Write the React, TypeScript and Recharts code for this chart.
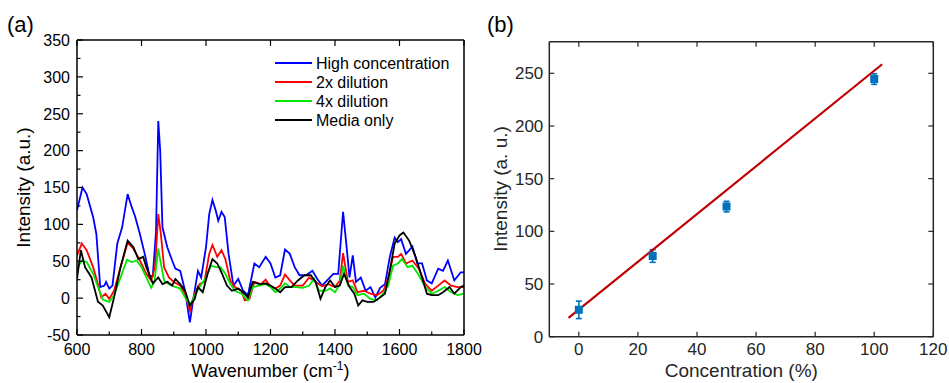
import React from 'react';
import { LineChart, Line, XAxis, YAxis, Legend, ComposedChart, Scatter, ErrorBar } from 'recharts';

const FONT = '"Liberation Sans", Arial, Helvetica, sans-serif';

// ---------- Panel (a): SERS spectra ----------
const highWn = [600,617,630,650,660,672,685,690,700,710,725,740,757,770,780,795,810,825,835,845,852,858,865,880,895,905,920,935,950,960,975,985,1000,1010,1020,1030,1038,1048,1058,1070,1085,1100,1115,1130,1150,1165,1185,1200,1215,1230,1245,1260,1275,1290,1310,1330,1345,1360,1380,1395,1410,1425,1435,1445,1455,1465,1480,1495,1510,1525,1540,1555,1570,1585,1595,1605,1620,1640,1655,1670,1685,1700,1720,1735,1750,1770,1790,1800];
const highInt = [119,150,141,110,87,15,17,22,13,17,74,96,141,123,111,87,60,30,30,90,240,200,96,69,51,40,37,10,-33,-3,37,28,69,114,133,119,105,117,110,60,17,26,10,4,47,42,56,47,28,31,66,60,42,31,31,37,26,17,26,33,33,117,74,28,58,22,28,10,15,1,14,19,56,82,76,80,60,70,47,47,24,20,40,37,51,24,35,35];

const redWn = [600,615,630,650,665,675,688,700,715,735,757,775,795,815,830,842,852,860,870,885,900,920,935,950,965,980,995,1010,1020,1035,1048,1060,1075,1090,1110,1120,1135,1150,1170,1185,1200,1215,1230,1245,1260,1275,1300,1320,1340,1360,1380,1400,1415,1425,1440,1455,1470,1490,1510,1530,1550,1565,1580,1595,1605,1620,1640,1660,1680,1700,1720,1740,1760,1780,1800];
const redInt = [58,74,65,42,19,1,6,-1,10,42,75,67,51,33,24,42,114,87,42,28,22,17,6,-17,6,19,22,60,72,56,65,53,24,15,10,-3,-1,22,19,25,15,13,17,32,24,17,17,28,22,16,19,15,24,61,22,24,8,10,6,4,10,28,56,56,60,47,51,40,19,10,17,24,17,15,15];

const greenWn = [600,615,630,650,665,680,700,715,735,755,770,785,800,815,830,840,852,860,870,885,900,920,935,950,965,980,1000,1015,1030,1045,1060,1075,1090,1110,1130,1145,1165,1185,1200,1215,1230,1245,1260,1280,1300,1320,1335,1350,1370,1385,1400,1415,1425,1440,1455,1470,1490,1510,1530,1550,1565,1580,1595,1608,1625,1640,1660,1680,1700,1720,1740,1760,1780,1800];
const greenInt = [40,51,49,33,15,-2,-5,4,28,52,49,51,42,28,14,22,67,47,24,19,16,13,1,-10,4,15,28,44,42,42,33,19,10,6,-3,15,17,19,15,8,13,20,15,15,14,17,26,10,10,13,8,19,44,17,15,4,6,-1,-3,6,17,44,47,53,42,44,31,15,6,10,15,8,4,6];

const mediaWn = [600,612,625,645,665,680,700,715,735,757,775,790,805,815,835,852,865,880,895,905,920,935,950,965,975,990,1005,1020,1035,1050,1065,1080,1100,1115,1130,1145,1165,1185,1200,1215,1230,1245,1265,1285,1305,1325,1340,1355,1370,1385,1400,1415,1428,1445,1460,1472,1485,1500,1520,1540,1555,1570,1585,1600,1612,1630,1650,1670,1685,1700,1720,1735,1755,1770,1790,1800];
const mediaInt = [26,65,42,28,-5,-10,-26,1,42,78,69,53,56,42,20,28,19,22,17,26,19,10,-10,-1,15,8,33,53,47,33,17,10,13,8,1,22,19,20,17,13,8,15,15,24,31,31,22,-1,15,24,15,17,33,15,6,-10,-3,-5,-5,1,6,37,74,85,89,78,56,28,6,4,4,8,15,6,15,17];

const seriesNames = ['High concentration', '2x dilution', '4x dilution', 'Media only'];
const seriesColors = ['#0000ff', '#ff0000', '#00e600', '#000000'];

const wnTicks = [600,700,800,900,1000,1100,1200,1300,1400,1500,1600,1700,1800];
const wnMajorTicks = [600,800,1000,1200,1400,1600,1800];
const intTicksA = [-50,-25,0,25,50,75,100,125,150,175,200,225,250,275,300,325,350];

// ---------- Panel (b): calibration ----------
const concX = [0, 25, 50, 100];
const concY = [25.5, 76.6, 123.5, 244.5];
const concErr = [8.3, 6, 5, 5];
const fitX = [-3.5, 102.7];
const fitY = [17.8, 258.6];
const concTicks = [0, 20, 40, 60, 80, 100, 120];
const intTicksB = [0, 50, 100, 150, 200, 250];

const zip = (xs: number[], ys: number[]) => xs.map((x, i) => ({ x, y: ys[i] }));
const seriesData = [zip(highWn, highInt), zip(redWn, redInt), zip(greenWn, greenInt), zip(mediaWn, mediaInt)];
const concData = concX.map((x, i) => ({ x, y: concY[i], err: concErr[i] }));
const fitData = zip(fitX, fitY);

// ---------- tick renderers ----------
const XTickA = (p: any) => {
  const v = p.payload.value;
  const major = v % 200 === 0;
  return (
    <g>
      <line x1={p.x} x2={p.x} y1={p.y} y2={p.y - (major ? 6 : 3.5)} stroke="#000" strokeWidth={1.2} />
      {major && (
        <text x={p.x} y={p.y + 20} textAnchor="middle" fontSize={16} fill="#000" fontFamily={FONT}>{v}</text>
      )}
    </g>
  );
};
const XTopTickA = (p: any) => (
  <line x1={p.x} x2={p.x} y1={p.y} y2={p.y + 6} stroke="#000" strokeWidth={1.2} />
);
const YTickA = (p: any) => {
  const v = p.payload.value;
  const major = v % 50 === 0;
  return (
    <g>
      <line x1={p.x} x2={p.x + (major ? 6 : 3.5)} y1={p.y} y2={p.y} stroke="#000" strokeWidth={1.2} />
      {major && (
        <text x={p.x - 7} y={p.y + 5.8} textAnchor="end" fontSize={16} fill="#000" fontFamily={FONT}>{v}</text>
      )}
    </g>
  );
};

const GRAY = '#262626';
const XTickB = (p: any) => (
  <g>
    <line x1={p.x} x2={p.x} y1={p.y} y2={p.y - 5} stroke={GRAY} strokeWidth={1.2} />
    <text x={p.x} y={p.y + 18.5} textAnchor="middle" fontSize={17} fill={GRAY} fontFamily={FONT}>{p.payload.value}</text>
  </g>
);
const XTopTickB = (p: any) => (
  <line x1={p.x} x2={p.x} y1={p.y} y2={p.y + 5} stroke={GRAY} strokeWidth={1.2} />
);
const YTickB = (p: any) => (
  <g>
    <line x1={p.x} x2={p.x + 5} y1={p.y} y2={p.y} stroke={GRAY} strokeWidth={1.2} />
    <text x={p.x - 6} y={p.y + 6} textAnchor="end" fontSize={17} fill={GRAY} fontFamily={FONT}>{p.payload.value}</text>
  </g>
);
const YRightTickB = (p: any) => (
  <line x1={p.x} x2={p.x - 5} y1={p.y} y2={p.y} stroke={GRAY} strokeWidth={1.2} />
);

const LegendA = () => (
  <div style={{ fontFamily: FONT }}>
    {seriesNames.map((name, i) => (
      <div key={name} style={{ display: 'flex', alignItems: 'center', height: 19 }}>
        <svg width={37} height={4} style={{ marginRight: 4, display: 'block' }}>
          <line x1={0} x2={37} y1={2} y2={2} stroke={seriesColors[i]} strokeWidth={1.8} />
        </svg>
        <span style={{ fontSize: 16, color: '#000', lineHeight: '19px', whiteSpace: 'nowrap' }}>{name}</span>
      </div>
    ))}
  </div>
);

export default function App() {
  return (
    <div style={{ position: 'absolute', left: 0, top: 0, width: 949, height: 383, background: '#fff', fontFamily: FONT, overflow: 'hidden' }}>
      <div style={{ position: 'absolute', left: 7, top: 12, fontSize: 22, lineHeight: '26px', color: '#000' }}>(a)</div>
      <div style={{ position: 'absolute', left: 487, top: 12, fontSize: 22, lineHeight: '26px', color: '#000' }}>(b)</div>

      <div style={{ position: 'absolute', left: 0, top: 0 }}>
        <LineChart width={500} height={383} margin={{ top: 39, right: 35, bottom: 47, left: 76 }}>
          <XAxis
            xAxisId={0}
            type="number"
            dataKey="x"
            domain={[600, 1800]}
            allowDataOverflow
            ticks={wnTicks}
            interval={0}
            height={1}
            tickSize={0}
            tickMargin={0}
            tickLine={false}
            tick={XTickA}
            axisLine={{ stroke: '#000', strokeWidth: 1.5 }}
            label={{
              content: () => (
                <text x={270.5} y={377} textAnchor="middle" fontSize={18} fill="#000" fontFamily={FONT}>
                  <tspan>Wavenumber (cm</tspan>
                  <tspan dy={-7} fontSize={12}>-1</tspan>
                  <tspan dy={7}>)</tspan>
                </text>
              ),
            }}
          />
          <XAxis
            xAxisId="top"
            orientation="top"
            type="number"
            dataKey="x"
            domain={[600, 1800]}
            allowDataOverflow
            ticks={wnMajorTicks}
            interval={0}
            height={1}
            tickSize={0}
            tickMargin={0}
            tickLine={false}
            tick={XTopTickA}
            axisLine={{ stroke: '#000', strokeWidth: 1.5 }}
          />
          <YAxis
            yAxisId={0}
            type="number"
            domain={[-50, 350]}
            allowDataOverflow
            ticks={intTicksA}
            interval={0}
            width={1}
            tickSize={0}
            tickMargin={0}
            tickLine={false}
            tick={YTickA}
            axisLine={{ stroke: '#000', strokeWidth: 1.5 }}
            label={{
              content: () => (
                <text x={23} y={187.5} transform="rotate(-90 23 187.5)" textAnchor="middle" dominantBaseline="central" fontSize={19} fill="#000" fontFamily={FONT}>
                  Intensity (a.u.)
                </text>
              ),
            }}
          />
          <YAxis
            yAxisId="right"
            orientation="right"
            type="number"
            domain={[-50, 350]}
            allowDataOverflow
            ticks={intTicksA}
            width={1}
            tick={false}
            tickLine={false}
            axisLine={{ stroke: '#000', strokeWidth: 1.5 }}
          />
          {seriesData.map((d, i) => (
            <Line
              key={seriesNames[i]}
              data={d}
              dataKey="y"
              name={seriesNames[i]}
              stroke={seriesColors[i]}
              strokeWidth={1.8}
              dot={false}
              type="linear"
              isAnimationActive={false}
            />
          ))}
          <Legend
            layout="vertical"
            align="center"
            verticalAlign="middle"
            wrapperStyle={{ position: 'absolute', left: 275, top: 53.5, width: 200 }}
            content={LegendA}
          />
        </LineChart>
      </div>

      <div style={{ position: 'absolute', left: 480, top: 0 }}>
        <ComposedChart width={469} height={383} margin={{ top: 40.7, right: 14.7, bottom: 45.3, left: 68.3 }}>
          <XAxis
            xAxisId={0}
            type="number"
            dataKey="x"
            domain={[-10, 120]}
            allowDataOverflow
            ticks={concTicks}
            interval={0}
            height={1}
            tickSize={0}
            tickMargin={0}
            tickLine={false}
            tick={XTickB}
            axisLine={{ stroke: GRAY, strokeWidth: 1.5 }}
            label={{
              content: () => (
                <text x={261.3} y={377} textAnchor="middle" fontSize={19} fill={GRAY} fontFamily={FONT}>
                  Concentration (%)
                </text>
              ),
            }}
          />
          <XAxis
            xAxisId="top"
            orientation="top"
            type="number"
            dataKey="x"
            domain={[-10, 120]}
            allowDataOverflow
            ticks={concTicks}
            interval={0}
            height={1}
            tickSize={0}
            tickMargin={0}
            tickLine={false}
            tick={XTopTickB}
            axisLine={{ stroke: GRAY, strokeWidth: 1.5 }}
          />
          <YAxis
            yAxisId={0}
            type="number"
            domain={[0, 280]}
            allowDataOverflow
            ticks={intTicksB}
            interval={0}
            width={1}
            tickSize={0}
            tickMargin={0}
            tickLine={false}
            tick={YTickB}
            axisLine={{ stroke: GRAY, strokeWidth: 1.5 }}
            label={{
              content: () => (
                <text x={20} y={189} transform="rotate(-90 20 189)" textAnchor="middle" dominantBaseline="central" fontSize={19} fill={GRAY} fontFamily={FONT}>
                  Intensity (a. u.)
                </text>
              ),
            }}
          />
          <YAxis
            yAxisId="right"
            orientation="right"
            type="number"
            domain={[0, 280]}
            allowDataOverflow
            ticks={intTicksB}
            interval={0}
            width={1}
            tickSize={0}
            tickMargin={0}
            tickLine={false}
            tick={YRightTickB}
            axisLine={{ stroke: GRAY, strokeWidth: 1.5 }}
          />
          <Scatter data={concData} dataKey="y" fill="#0072BD" shape="square" isAnimationActive={false}>
            <ErrorBar dataKey="err" direction="y" width={3} stroke="#0072BD" strokeWidth={1.6} isAnimationActive={false} />
          </Scatter>
          <Line data={fitData} dataKey="y" stroke="#c00000" strokeWidth={2.2} dot={false} type="linear" isAnimationActive={false} />
        </ComposedChart>
      </div>
    </div>
  );
}
